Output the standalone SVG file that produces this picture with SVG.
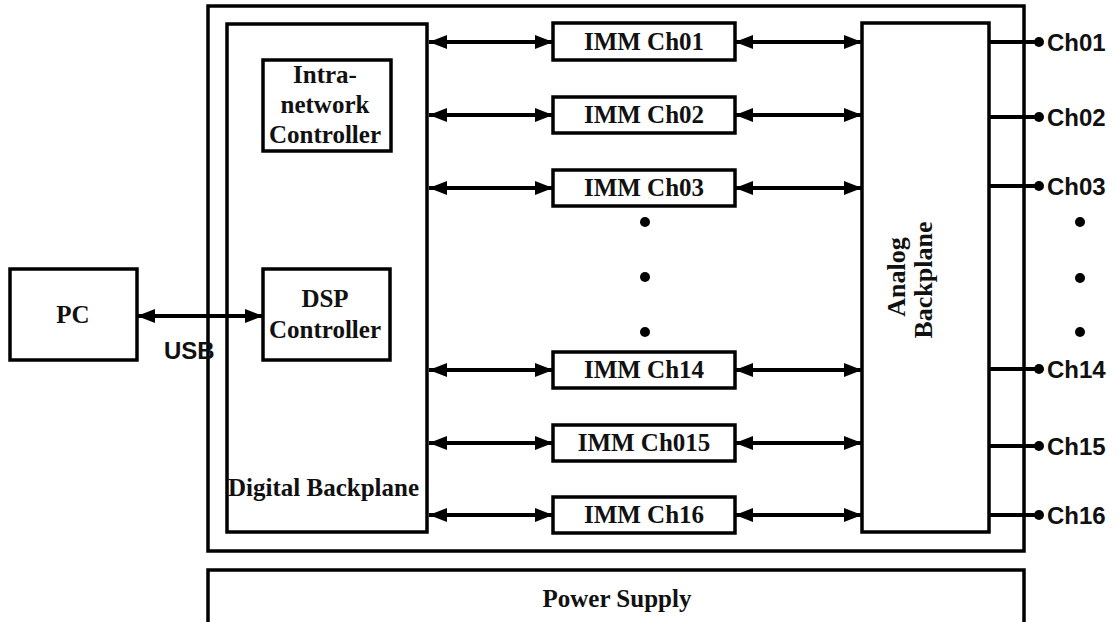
<svg xmlns="http://www.w3.org/2000/svg" width="1119" height="622" viewBox="0 0 1119 622">
<style>
.box{fill:#fff;stroke:#000;stroke-width:3.5}
.ser{font-family:"Liberation Serif","Times New Roman",serif;font-weight:bold;fill:#111}
.imm{font-size:25px;text-anchor:middle}
.sans{font-family:"Liberation Sans",Arial,sans-serif;font-weight:bold;fill:#111;font-size:24px}
.link{stroke:#000;stroke-width:4;fill:none}
.out{stroke:#000;stroke-width:4;fill:none}
</style>
<defs>
<marker id="ah" markerUnits="userSpaceOnUse" markerWidth="20" markerHeight="16" refX="18" refY="8" orient="auto-start-reverse">
<path d="M0,1 L18,8 L0,15 Z" fill="#000"/>
</marker>
</defs>
<rect width="1119" height="622" fill="#fff"/>

<g id="chassis"><rect class="box" x="208" y="6" width="816" height="545"/></g>
<g id="power-supply">
<rect class="box" x="208" y="570" width="816" height="70"/>
<text class="ser" x="617" y="607" font-size="25" text-anchor="middle">Power Supply</text>
</g>

<g id="digital-backplane">
<rect class="box" x="227" y="24" width="200" height="508"/>
<text class="ser" x="228" y="496" font-size="25">Digital Backplane</text>
</g>
<g id="intranet-controller">
<rect class="box" x="263" y="60" width="128" height="91"/>
<text class="ser imm" x="325" y="83">Intra-</text>
<text class="ser imm" x="325" y="113">network</text>
<text class="ser imm" x="325" y="143">Controller</text>
</g>
<g id="dsp-controller">
<rect class="box" x="263" y="269" width="127" height="91"/>
<text class="ser imm" x="325" y="307">DSP</text>
<text class="ser imm" x="325" y="338">Controller</text>
</g>
<g id="pc">
<rect class="box" x="10" y="269" width="127" height="91"/>
<text class="ser imm" x="73" y="323">PC</text>
</g>

<g id="analog-backplane">
<rect class="box" x="862" y="23" width="127" height="509"/>
<text class="ser" font-size="26" text-anchor="middle" transform="translate(905,277) rotate(-90)">Analog</text>
<text class="ser" font-size="26" text-anchor="middle" transform="translate(932,280) rotate(-90)">Backplane</text>
</g>

<g id="imm-ch01"><rect class="box" x="553" y="23" width="182" height="37"/><text class="ser imm" x="644" y="50">IMM Ch01</text></g>
<g id="imm-ch02"><rect class="box" x="553" y="97" width="182" height="36"/><text class="ser imm" x="644" y="123">IMM Ch02</text></g>
<g id="imm-ch03"><rect class="box" x="553" y="170" width="182" height="36"/><text class="ser imm" x="644" y="196">IMM Ch03</text></g>
<g id="imm-ch14"><rect class="box" x="553" y="352" width="182" height="36"/><text class="ser imm" x="644" y="378">IMM Ch14</text></g>
<g id="imm-ch15"><rect class="box" x="553" y="425" width="182" height="36"/><text class="ser imm" x="644" y="451">IMM Ch015</text></g>
<g id="imm-ch16"><rect class="box" x="553" y="497" width="182" height="36"/><text class="ser imm" x="644" y="523">IMM Ch16</text></g>

<g id="ellipsis">
<circle cx="645" cy="222" r="5"/><circle cx="645" cy="277" r="5"/><circle cx="645" cy="332" r="5"/>
<circle cx="1080" cy="222" r="5"/><circle cx="1080" cy="278" r="5"/><circle cx="1080" cy="332" r="5"/>
</g>

<g id="connectors">
<line class="link" x1="137" y1="316" x2="263" y2="316" marker-start="url(#ah)" marker-end="url(#ah)"/>
<line class="link" x1="429" y1="42" x2="553" y2="42" marker-start="url(#ah)" marker-end="url(#ah)"/>
<line class="link" x1="735" y1="42" x2="862" y2="42" marker-start="url(#ah)" marker-end="url(#ah)"/>
<line class="link" x1="429" y1="115" x2="553" y2="115" marker-start="url(#ah)" marker-end="url(#ah)"/>
<line class="link" x1="735" y1="115" x2="862" y2="115" marker-start="url(#ah)" marker-end="url(#ah)"/>
<line class="link" x1="429" y1="188" x2="553" y2="188" marker-start="url(#ah)" marker-end="url(#ah)"/>
<line class="link" x1="735" y1="188" x2="862" y2="188" marker-start="url(#ah)" marker-end="url(#ah)"/>
<line class="link" x1="429" y1="370" x2="553" y2="370" marker-start="url(#ah)" marker-end="url(#ah)"/>
<line class="link" x1="735" y1="370" x2="862" y2="370" marker-start="url(#ah)" marker-end="url(#ah)"/>
<line class="link" x1="429" y1="443" x2="553" y2="443" marker-start="url(#ah)" marker-end="url(#ah)"/>
<line class="link" x1="735" y1="443" x2="862" y2="443" marker-start="url(#ah)" marker-end="url(#ah)"/>
<line class="link" x1="429" y1="515" x2="553" y2="515" marker-start="url(#ah)" marker-end="url(#ah)"/>
<line class="link" x1="735" y1="515" x2="862" y2="515" marker-start="url(#ah)" marker-end="url(#ah)"/>

<line class="out" x1="989" y1="42" x2="1039" y2="42"/><circle cx="1039" cy="42" r="5"/>
<line class="out" x1="989" y1="117" x2="1039" y2="117"/><circle cx="1039" cy="117" r="5"/>
<line class="out" x1="989" y1="186" x2="1039" y2="186"/><circle cx="1039" cy="186" r="5"/>
<line class="out" x1="989" y1="369" x2="1039" y2="369"/><circle cx="1039" cy="369" r="5"/>
<line class="out" x1="989" y1="446" x2="1039" y2="446"/><circle cx="1039" cy="446" r="5"/>
<line class="out" x1="989" y1="515" x2="1039" y2="515"/><circle cx="1039" cy="515" r="5"/>
</g>

<g id="labels">
<text class="sans" x="164" y="359">USB</text>
<text class="sans" x="1047" y="51">Ch01</text>
<text class="sans" x="1047" y="126">Ch02</text>
<text class="sans" x="1047" y="195">Ch03</text>
<text class="sans" x="1047" y="378">Ch14</text>
<text class="sans" x="1047" y="455">Ch15</text>
<text class="sans" x="1047" y="524">Ch16</text>
</g>
</svg>
